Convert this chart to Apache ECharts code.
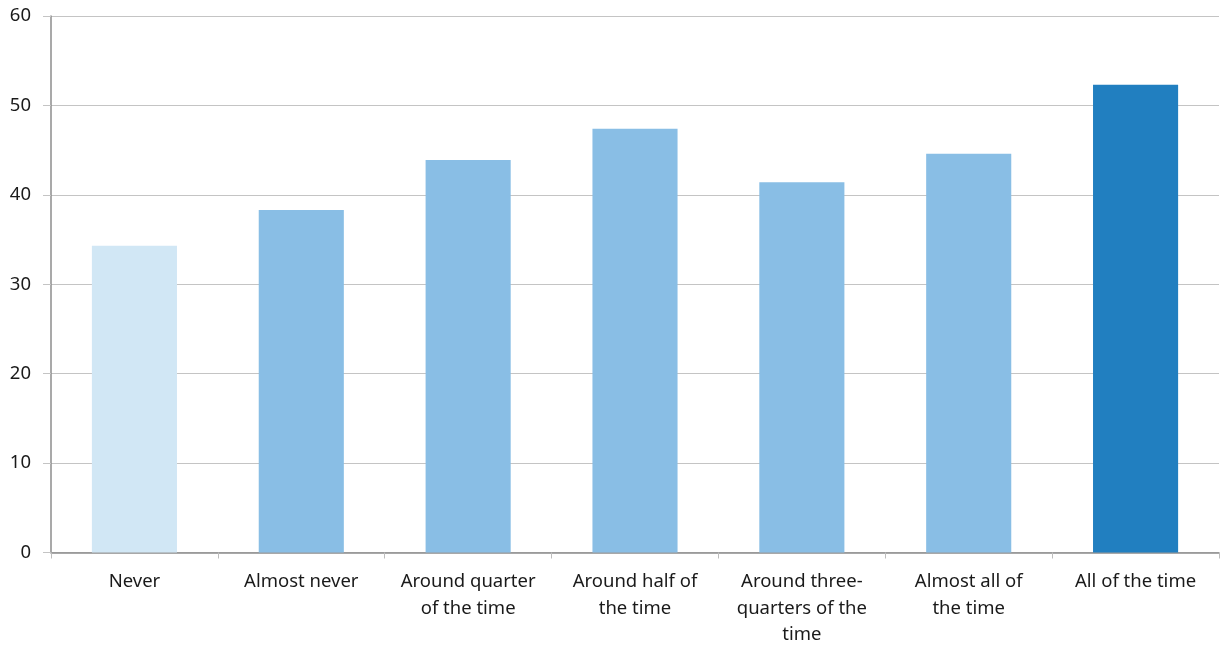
<!DOCTYPE html>
<html><head><meta charset="utf-8">
<script src="https://cdn.jsdelivr.net/npm/echarts@6/dist/echarts.min.js"></script>
<style>html,body{margin:0;padding:0;background:#fff}#c{width:1221px;height:648px}</style>
</head><body><div id="c"></div>
<script>
const categories = ["Never", "Almost never", "Around quarter\nof the time", "Around half of\nthe time", "Around three-\nquarters of the\ntime", "Almost all of\nthe time", "All of the time"];
const values = [34.3, 38.3, 43.9, 47.4, 41.4, 44.6, 52.3];
const barColors = ["#D1E7F5", "#89BEE5", "#89BEE5", "#89BEE5", "#89BEE5", "#89BEE5", "#217FC0"];
const yTicks = [0, 10, 20, 30, 40, 50, 60];

const font = "'Noto Sans', sans-serif";
const chart = echarts.init(document.getElementById('c'), null, {renderer: 'canvas'});
chart.setOption({
  animation: false,
  grid: {left: 51, right: 2, top: 16, bottom: 92, containLabel: false},
  xAxis: {
    type: 'category', data: categories,
    axisLine: {lineStyle: {color: '#8c8c8c', width: 1.5}},
    axisTick: {show: true, length: 6, lineStyle: {color: '#bdbdbd'}},
    axisLabel: {color: '#1a1a1a', fontSize: 18.5, fontFamily: font, lineHeight: 26.5, margin: 16, interval: 0}
  },
  yAxis: {
    type: 'value', min: yTicks[0], max: yTicks[yTicks.length - 1], interval: 10,
    axisLine: {show: true, lineStyle: {color: '#8c8c8c', width: 1.5}},
    axisTick: {show: true, length: 8, lineStyle: {color: '#c4c4c4'}},
    splitLine: {lineStyle: {color: '#c4c4c4', width: 1.2}},
    axisLabel: {color: '#1a1a1a', fontSize: 18.5, fontFamily: font, margin: 20}
  },
  series: [{
    type: 'bar', barWidth: '51%',
    data: values.map((v, i) => ({value: v, itemStyle: {color: barColors[i]}}))
  }]
});
</script></body></html>
